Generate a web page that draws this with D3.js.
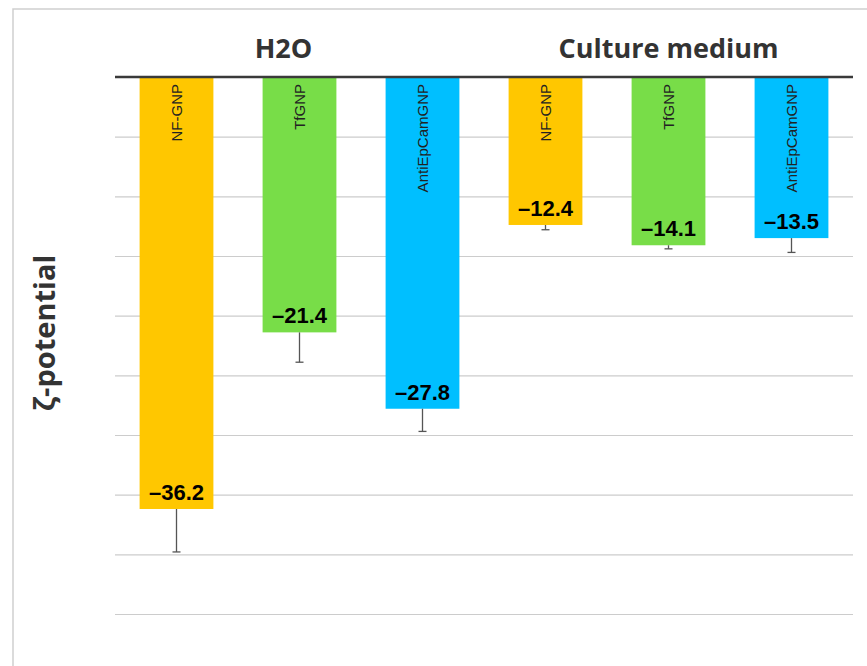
<!DOCTYPE html>
<html>
<head>
<meta charset="utf-8">
<script src="https://cdn.jsdelivr.net/npm/d3@7"></script>
<style>
  body { margin: 0; background: #fff; }
  svg { display: block; }
</style>
</head>
<body>
<div id="chart"></div>
<script>
// data
const groups = ["H2O", "Culture medium"];
const particles = ["NF-GNP", "TfGNP", "AntiEpCamGNP"];
const h2oValues = [-36.2, -21.4, -27.8];
const h2oErrors = [3.6, 2.5, 1.9];
const mediumValues = [-12.4, -14.1, -13.5];
const mediumErrors = [0.4, 0.3, 1.2];
const yTicks = [0, -5, -10, -15, -20, -25, -30, -35, -40, -45];
const colors = ["#ffc700", "#78dd48", "#00bfff"];

const width = 867, height = 666;
const margin = { top: 77, left: 115, right: 14, bottom: 52 };

const bars = [];
[h2oValues, mediumValues].forEach((vals, g) => {
  const errs = g === 0 ? h2oErrors : mediumErrors;
  vals.forEach((v, i) => {
    bars.push({ key: groups[g] + "|" + particles[i], group: g, name: particles[i], value: v, err: errs[i], color: colors[i] });
  });
});

const svg = d3.select("#chart")
  .append("svg")
  .attr("width", width)
  .attr("height", height);

// light frame
svg.append("path")
  .attr("d", `M13,${height} V9 H${width}`)
  .attr("fill", "none")
  .attr("stroke", "#cfcfcf")
  .attr("stroke-width", 1.5);

const x = d3.scaleBand()
  .domain(bars.map(d => d.key))
  .range([margin.left, width - margin.right])
  .paddingInner(0.4)
  .paddingOuter(0.2);

const y = d3.scaleLinear()
  .domain([-45, 0])
  .range([614, margin.top]);

// grid
svg.append("g")
  .selectAll("line")
  .data(yTicks.filter(t => t !== 0))
  .join("line")
    .attr("x1", margin.left)
    .attr("x2", width - margin.right)
    .attr("y1", d => y(d) + 0.5)
    .attr("y2", d => y(d) + 0.5)
    .attr("stroke", "#cccccc")
    .attr("stroke-width", 1.2);

// bars
svg.append("g")
  .selectAll("rect")
  .data(bars)
  .join("rect")
    .attr("x", d => x(d.key))
    .attr("y", y(0))
    .attr("width", x.bandwidth())
    .attr("height", d => y(d.value) - y(0))
    .attr("fill", d => d.color);

// error bars
const eb = svg.append("g")
  .attr("stroke", "#555")
  .attr("stroke-width", 1.3);
eb.selectAll("line.stem")
  .data(bars)
  .join("line")
    .attr("class", "stem")
    .attr("x1", d => x(d.key) + x.bandwidth() / 2)
    .attr("x2", d => x(d.key) + x.bandwidth() / 2)
    .attr("y1", d => y(d.value))
    .attr("y2", d => y(d.value - d.err));
eb.selectAll("line.cap")
  .data(bars)
  .join("line")
    .attr("class", "cap")
    .attr("x1", d => x(d.key) + x.bandwidth() / 2 - 4)
    .attr("x2", d => x(d.key) + x.bandwidth() / 2 + 4)
    .attr("y1", d => y(d.value - d.err))
    .attr("y2", d => y(d.value - d.err));

// zero line
svg.append("line")
  .attr("x1", margin.left)
  .attr("x2", width - margin.right)
  .attr("y1", y(0))
  .attr("y2", y(0))
  .attr("stroke", "#3a3a3a")
  .attr("stroke-width", 2.5);

// names inside bars, rotated
svg.append("g")
  .selectAll("text")
  .data(bars)
  .join("text")
    .attr("transform", d => `translate(${x(d.key) + x.bandwidth() / 2 + 5},${y(0) + 7}) rotate(-90)`)
    .attr("text-anchor", "end")
    .attr("font-family", "Liberation Sans, Arial, sans-serif")
    .attr("font-size", 15)
    .attr("fill", "#222")
    .text(d => d.name);

// value labels
svg.append("g")
  .selectAll("text")
  .data(bars)
  .join("text")
    .attr("x", d => x(d.key) + x.bandwidth() / 2)
    .attr("y", d => y(d.value) - 9)
    .attr("text-anchor", "middle")
    .attr("font-family", "Liberation Sans, Arial, sans-serif")
    .attr("font-weight", "bold")
    .attr("font-size", 22)
    .attr("fill", "#000")
    .text(d => "\u2013" + Math.abs(d.value).toFixed(1));

// group titles
const groupCenter = g => {
  const first = x(groups[g] + "|" + particles[0]);
  const last = x(groups[g] + "|" + particles[2]) + x.bandwidth();
  return (first + last) / 2;
};
svg.append("g")
  .selectAll("text")
  .data(groups)
  .join("text")
    .attr("x", (d, g) => groupCenter(g) - (g === 0 ? 16 : 0))
    .attr("y", 58)
    .attr("text-anchor", "middle")
    .attr("font-family", "Open Sans, sans-serif")
    .attr("font-weight", 700)
    .attr("font-size", 27)
    .attr("fill", "#333")
    .text(d => d);

// y axis label
svg.append("text")
  .attr("transform", "translate(55,333) rotate(-90)")
  .attr("text-anchor", "middle")
  .attr("font-family", "Open Sans, sans-serif")
  .attr("font-weight", 700)
  .attr("font-size", 29)
  .attr("fill", "#333")
  .text("\u03b6-potential");
</script>
</body>
</html>
